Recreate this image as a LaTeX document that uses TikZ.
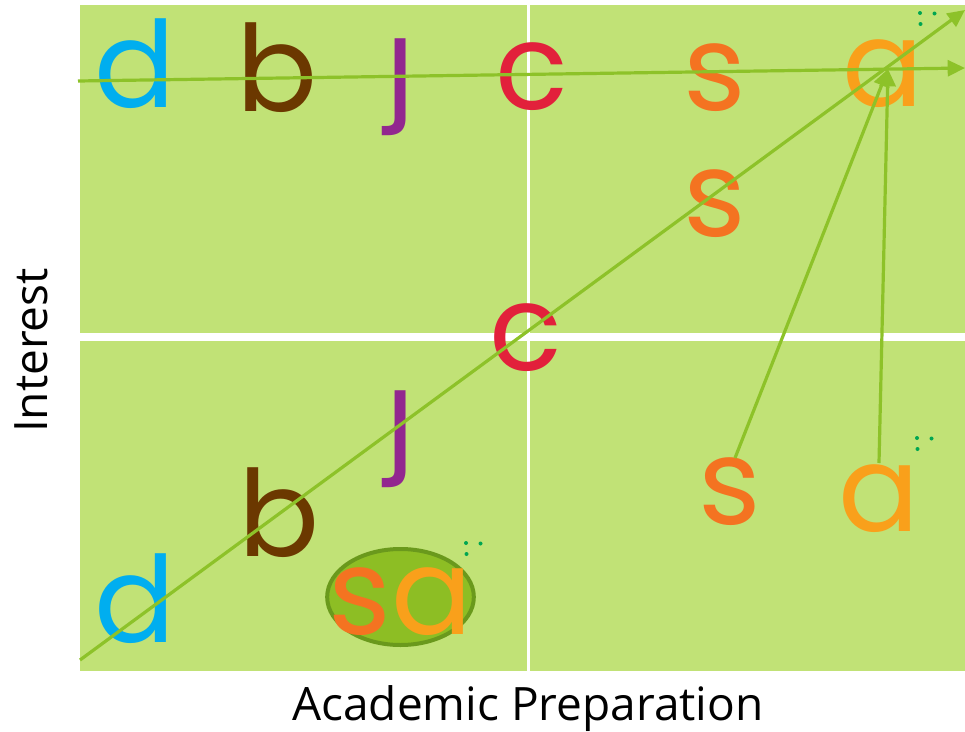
\documentclass[tikz,border=0pt]{standalone}
\usepackage{fontspec}
\setmainfont{Open Sans}
\newfontfamily\letterfont{Poppins}
\usetikzlibrary{arrows.meta,shapes.geometric}
\definecolor{bggreen}{RGB}{193,226,118}
\definecolor{linegreen}{RGB}{141,194,41}
\definecolor{ellfill}{RGB}{141,190,36}
\definecolor{ellborder}{RGB}{106,153,28}
\definecolor{dotgreen}{RGB}{0,166,81}
\definecolor{dblue}{RGB}{0,174,239}
\definecolor{bbrown}{RGB}{107,56,0}
\definecolor{jpurple}{RGB}{146,39,143}
\definecolor{cred}{RGB}{226,32,59}
\definecolor{sorange}{RGB}{244,115,33}
\definecolor{aorange}{RGB}{249,160,27}
\begin{document}
\begin{tikzpicture}[x=0.75pt,y=-0.75pt,
  letter/.style={inner sep=0pt, anchor=base, font=\letterfont\fontsize{90}{90}\selectfont},
  axislabel/.style={inner sep=0pt, anchor=base, font=\fontsize{34.5}{34.5}\selectfont},
  conn/.style={draw=linegreen, line width=2.4pt, -{Triangle[length=13pt,width=12pt]}},
  dotmark/.style={fill=dotgreen}
]
\useasboundingbox (0,0) rectangle (965,732);
% background panels
\fill[bggreen] (80,5) rectangle (965,671);
\fill[white] (80,333) rectangle (965,341);
\fill[white] (526.5,5) rectangle (529.5,671);
% ellipse
\node[ellipse, draw=ellborder, fill=ellfill, line width=3pt, minimum width=110pt, minimum height=72pt, inner sep=0pt] (ell) at (400.5,597) {};
% top row letters
\node[letter, text=dblue] (d1) at (135.5,107) {d};
\node[letter, text=bbrown] (b1) at (277.5,111) {b};
\begin{scope}
  \clip (360,36) rectangle (440,145);
  \node[letter, text=jpurple] (j1) at (400,104) {j};
\end{scope}
\node[letter, text=cred] (c1) at (531.5,109) {c};
\node[letter, text=sorange] (s1) at (715,110) {s};
\node[letter, text=aorange] (a1) at (883.5,106) {a};
% other letters
\node[letter, text=sorange] (s2) at (715,236) {s};
\node[letter, text=cred] (c2) at (526,370) {c};
\begin{scope}
  \clip (360,388) rectangle (440,497);
  \node[letter, text=jpurple] (j2) at (400,456) {j};
\end{scope}
\node[letter, text=bbrown] (b2) at (279.5,556) {b};
\node[letter, text=dblue] (d2) at (135.5,642) {d};
\node[letter, text=sorange] (s3) at (730,524) {s};
\node[letter, text=aorange] (a2) at (879,531) {a};
\node[letter] (sa) at (400.5,634) {\textcolor{sorange}{s}\textcolor{aorange}{a}};
% dots
\foreach \px/\py in {920/13, 917/438, 466/543}{
  \fill[dotmark] (\px,\py) circle (1.5pt);
  \fill[dotmark] (\px+14.5,\py+0.5) circle (1.5pt);
  \fill[dotmark] (\px+0.5,\py+11) circle (1.5pt);
}
% connectors
\coordinate (hStart) at (78,81);
\coordinate (hEnd) at (965,68);
\coordinate (gStart) at (80,660);
\coordinate (gEnd) at (965,10);
\coordinate (sTail) at (735,458);
\coordinate (aTail) at (879,463);
\coordinate (aTip) at (888,69);
\draw[conn] (hStart) -- (hEnd);
\draw[conn] (gStart) -- (gEnd);
\draw[conn] (sTail) -- (aTip);
\draw[conn] (aTail) -- (aTip);
% axis labels
\node[axislabel] (xlab) at (528,720) {Academic Preparation};
\node[axislabel, rotate=90] (ylab) at (47,350.5) {Interest};
\end{tikzpicture}
\end{document}
